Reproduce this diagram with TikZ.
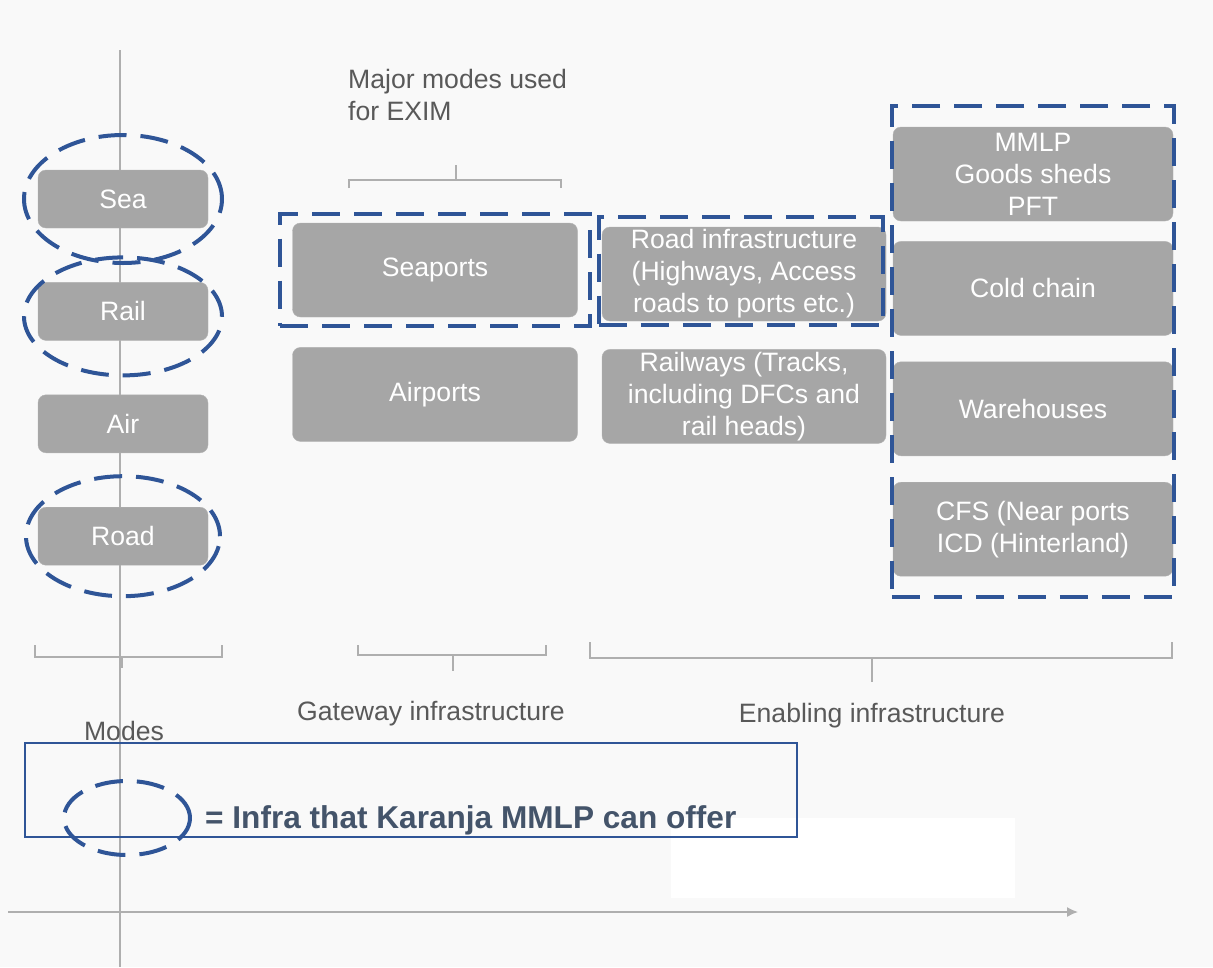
\documentclass[tikz,border=0pt]{standalone}
\usepackage{fontspec}
\setmainfont{Liberation Sans}
\usepackage{tikz}
\usepackage{xcolor}
\usetikzlibrary{arrows.meta, positioning, fit}
\definecolor{paper}{RGB}{249,249,249}
\definecolor{boxgrey}{RGB}{166,166,166}
\definecolor{labelgrey}{RGB}{89,89,89}
\definecolor{axisgrey}{RGB}{175,175,175}
\definecolor{offerblue}{RGB}{47,85,151}
\definecolor{legendtext}{RGB}{68,84,106}
\newcommand{\lblsize}{\fontsize{26.6}{32}\selectfont}

\begin{document}
\begin{tikzpicture}[
  x=1pt, y=-1pt,
  box/.style={rectangle, rounded corners=8pt, draw=boxgrey!85!white, fill=boxgrey,
    minimum width=#1, minimum height=94pt, text=white, font=\lblsize, align=center, inner sep=2pt},
  modebox/.style={box=170pt, minimum height=58pt},
  lbl/.style={text=labelgrey, font=\lblsize, align=center, inner sep=0pt},
  offer/.style={draw=offerblue, line width=4pt, dash pattern=on 28pt off 14pt},
  brack/.style={draw=axisgrey, line width=1.5pt},
  axis/.style={draw=axisgrey, line width=1.5pt}
]
\useasboundingbox (0,0) rectangle (1213,967);
\fill[paper] (0,0) rectangle (1213,967);
\fill[white] (671,818) rectangle (1015,898);

% axes
\coordinate (ytop) at (120,50);
\coordinate (ybot) at (120,967);
\coordinate (xleft) at (8,912);
\coordinate (xright) at (1078,912);
\draw[axis] (ytop) -- (ybot);
\draw[axis, -{Latex[length=11pt, width=10pt]}] (xleft) -- (xright);

% modes
\node[modebox] (sea) at (123,199) {Sea};
\node[modebox, below=54pt of sea] (rail) {Rail};
\node[modebox, below=54pt of rail] (air) {Air};
\node[modebox, below=54pt of air] (road) {Road};

% gateway infrastructure
\node[box=285pt] (seaports) at (435,270) {Seaports};
\node[box=285pt, below=30pt of seaports] (airports) {Airports};

% enabling infrastructure
\node[box=284pt] (roadinfra) at (744,274) {Road infrastructure\\(Highways, Access\\roads to ports etc.)};
\node[box=284pt, below=28pt of roadinfra] (railways) {Railways (Tracks,\\including DFCs and\\rail heads)};

\node[box=280pt] (mmlp) at (1033,174) {MMLP\\Goods sheds\\PFT};
\node[box=280pt, below=20pt of mmlp] (cold) {Cold chain};
\node[box=280pt, below=26pt of cold] (ware) {Warehouses};
\node[box=280pt, below=26pt of ware] (cfs) {CFS (Near ports\\ICD (Hinterland)};

% what Karanja MMLP can offer
\draw[offer] (sea) ellipse [x radius=99pt, y radius=64pt];
\draw[offer] ([yshift=-5pt]rail.center) ellipse [x radius=99pt, y radius=59pt];
\draw[offer] (road) ellipse [x radius=97pt, y radius=60pt];
\node[offer, fit=(seaports), inner xsep=12pt, inner ysep=9pt] (seafit) {};
\node[offer, fit=(roadinfra), inner xsep=0pt, inner ysep=7pt, xshift=-3pt, yshift=3pt] (roadfit) {};
\node[offer, fit=(mmlp)(cfs), inner xsep=1pt, inner ysep=21pt] (enablefit) {};

% brackets and labels
\node[lbl, anchor=north west, align=left] (exim) at (348,69) {Major modes used\\for EXIM};
\draw[brack] (349,188) -- (349,180) -- (561,180) -- (561,188);
\draw[brack] (456,180) -- (456,165);

\draw[brack] (35,645) -- (35,657) -- (222,657) -- (222,645);
\draw[brack] (122,657) -- (122,668);
\draw[brack] (358,645) -- (358,655) -- (546,655) -- (546,645);
\draw[brack] (453,655) -- (453,671);
\draw[brack] (590,642) -- (590,658) -- (1172,658) -- (1172,642);
\draw[brack] (872,658) -- (872,682);

\node[lbl] (modes) at (124,731) {Modes};
\node[lbl] (gateway) at (431,714) {Gateway infrastructure};
\node[lbl] (enabling) at (872,716) {Enabling infrastructure};

% legend
\node[draw=offerblue, line width=1.2pt, minimum width=772pt, minimum height=94pt] (legend) at (411,790) {};
\draw[offer] (127,818) ellipse [x radius=63pt, y radius=37pt];
\node[anchor=west, inner sep=0pt, text=legendtext, font=\bfseries\fontsize{31.6}{36}\selectfont] (offertext) at (205,820) {= Infra that Karanja MMLP can offer};
\end{tikzpicture}
\end{document}
